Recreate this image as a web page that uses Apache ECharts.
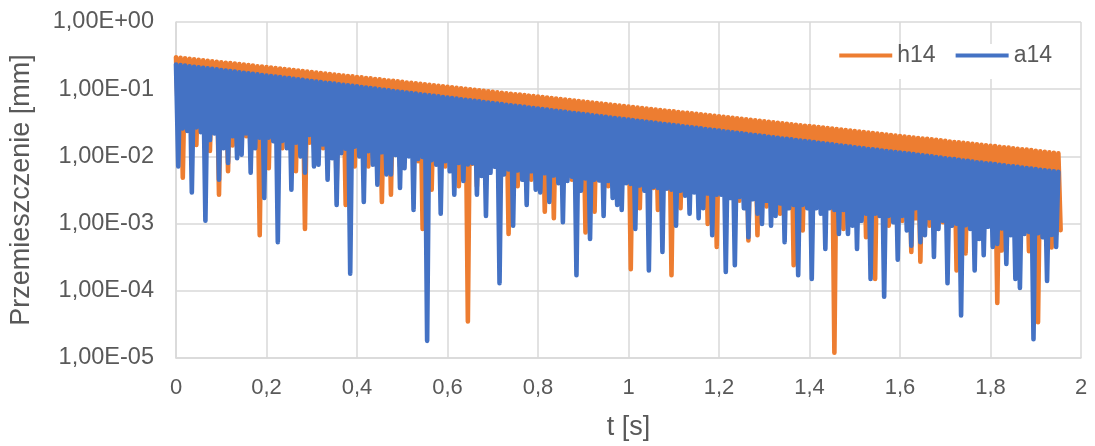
<!DOCTYPE html>
<html>
<head>
<meta charset="utf-8">
<script src="https://cdn.jsdelivr.net/npm/echarts@6/dist/echarts.min.js"></script>
<style>
  html, body { margin: 0; padding: 0; background: #ffffff; }
  #chart { width: 1095px; height: 446px; }
</style>
</head>
<body>
<div id="chart"></div>
<script>
// Sampling step of the peak / trough sequence [s]: peaks at k*dt, troughs at (k+0.5)*dt
const dt = 0.01;

const seriesNames = ['h14', 'a14'];

// h14 – amplitude peaks [mm]
const h14Peaks = [
  .299,.294,.289,.284,.279,.274,.270,.265,.261,.256,
  .252,.248,.244,.240,.236,.232,.228,.224,.220,.217,
  .213,.210,.206,.203,.199,.196,.193,.189,.186,.183,
  .180,.177,.174,.171,.168,.165,.163,.160,.157,.155,
  .152,.150,.147,.145,.142,.140,.137,.135,.133,.131,
  .129,.126,.124,.122,.120,.118,.116,.114,.112,.110,
  .109,.107,.105,.103,.101,.0997,.0981,.0964,.0948,.0932,
  .0917,.0902,.0887,.0872,.0857,.0843,.0829,.0815,.0801,.0788,
  .0775,.0762,.0749,.0737,.0724,.0712,.0700,.0689,.0677,.0666,
  .0654,.0643,.0632,.0622,.0611,.0601,.0591,.0581,.0571,.0562,
  .0553,.0544,.0535,.0526,.0517,.0508,.0500,.0491,.0483,.0475,
  .0467,.0459,.0451,.0444,.0437,.0429,.0422,.0415,.0408,.0401,
  .0395,.0388,.0382,.0375,.0369,.0363,.0357,.0351,.0345,.0339,
  .0333,.0327,.0322,.0317,.0311,.0306,.0301,.0296,.0291,.0286,
  .0282,.0277,.0273,.0268,.0264,.0259,.0255,.0251,.0246,.0242,
  .0238,.0234,.0230,.0226,.0222,.0219,.0215,.0211,.0208,.0204,
  .0201,.0198,.0194,.0191,.0188,.0185,.0182,.0179,.0176,.0173,
  .0170,.0167,.0164,.0162,.0159,.0156,.0154,.0151,.0149,.0146,
  .0144,.0142,.0139,.0137,.0135,.0132,.0130,.0128,.0126,.0124,
  .0121,.0119,.0117,.0115,.0113,.0111
];

// h14 – troughs between the peaks [mm]
const h14Troughs = [
  .028,.0048,.025,.027,.0148,.024,.026,.0121,.023,.0027,
  .023,.0060,.0146,.021,.022,.020,.0089,.020,.00067,.019,
  .0067,.018,.018,.0132,.017,.017,.0060,.016,.00083,.016,
  .015,.015,.0132,.014,.014,.0036,.014,.0019,.013,.0071,
  .013,.012,.0071,.012,.0115,.0021,.011,.0027,.011,.0071,
  .0105,.0112,.0100,.0085,.00083,.0095,.0032,.0092,.0090,.0071,
  .0087,.0084,.0036,.0081,.000035,.0078,.0036,.0075,.0067,.0072,
  .0071,.0024,.0068,.00070,.0066,.0036,.0063,.0062,.0045,.0060,
  .0059,.0015,.0057,.0012,.0055,.0053,.0052,.0045,.0050,.0049,
  .00074,.0048,.0015,.0046,.0045,.0036,.0043,.0036,.0042,.0041,
  .00021,.0040,.0017,.0038,.0037,.0034,.0016,.0035,.0034,.00017,
  .0034,.0017,.0032,.0032,.0032,.0030,.0030,.00099,.0029,.00045,
  .0028,.0027,.0026,.0026,.0022,.0025,.00056,.0024,.00067,.0023,
  .0018,.0023,.0022,.0014,.0021,.0021,.00024,.0020,.00079,.0019,
  .0019,.0018,.0018,.0018,.0019,.000012,.0017,.00083,.0016,.0017,
  .0016,.0015,.00063,.0015,.00015,.0014,.0014,.00093,.0013,.0013,
  .0011,.0013,.00038,.0012,.00027,.0012,.00093,.0011,.0011,.00105,
  .0011,.0010,.00020,.0010,.00036,.0010,.00097,.00094,.00092,.0012,
  .00090,.000066,.00040,.00086,.00084,.00082,.00080,.00078,.00039,.00075,
  .000034,.00073,.00072,.00044,.00069,.0008
];

// a14 – amplitude peaks [mm]
const a14Peaks = [
  .233,.229,.225,.220,.216,.212,.208,.204,.201,.197,
  .193,.190,.186,.183,.179,.176,.173,.169,.166,.163,
  .160,.157,.154,.151,.148,.146,.143,.140,.138,.135,
  .132,.130,.128,.125,.123,.121,.118,.116,.114,.112,
  .110,.108,.106,.104,.102,.0997,.0979,.0960,.0942,.0925,
  .0908,.0891,.0874,.0858,.0842,.0826,.0811,.0796,.0781,.0766,
  .0751,.0737,.0723,.0710,.0696,.0683,.0671,.0658,.0646,.0634,
  .0622,.0610,.0599,.0588,.0577,.0566,.0555,.0545,.0535,.0525,
  .0515,.0505,.0496,.0487,.0478,.0469,.0460,.0451,.0443,.0435,
  .0426,.0418,.0410,.0403,.0395,.0388,.0380,.0373,.0366,.0359,
  .0353,.0346,.0340,.0334,.0327,.0321,.0315,.0309,.0304,.0298,
  .0292,.0287,.0281,.0276,.0271,.0266,.0261,.0256,.0251,.0246,
  .0242,.0237,.0233,.0229,.0224,.0220,.0216,.0212,.0208,.0204,
  .0200,.0196,.0193,.0189,.0185,.0182,.0179,.0175,.0172,.0169,
  .0166,.0163,.0160,.0157,.0154,.0151,.0148,.0145,.0143,.0140,
  .0137,.0134,.0132,.0129,.0127,.0125,.0122,.0120,.0118,.0116,
  .0114,.0112,.0110,.0108,.0106,.0104,.0102,.0100,.0098,.0096,
  .0094,.0092,.0091,.0089,.0087,.0086,.0084,.0082,.0081,.0079,
  .0078,.0077,.0075,.0074,.0072,.0071,.0070,.0068,.0067,.0066,
  .0065,.0063,.0062,.0061,.0060,.0059
];

// a14 – troughs between the peaks [mm]
const a14Troughs = [
  .0071,.026,.024,.0029,.027,.023,.0011,.0175,.022,.0045,
  .0132,.0080,.020,.0094,.0106,.022,.0057,.0132,.019,.0024,
  .019,.0168,.00053,.017,.0132,.0032,.016,.0100,.0057,.0208,
  .0071,.0075,.015,.0045,.0094,.0019,.0112,.013,.00018,.014,
  .0100,.0021,.012,.0075,.0038,.0115,.0054,.0054,.0105,.0034,
  .0067,.0100,.0016,.0092,.0098,.000018,.0088,.0075,.0014,.0085,
  .0060,.0027,.0080,.0043,.0076,.0079,.0027,.0051,.0013,.0057,
  .0070,.00013,.0054,.0064,.00093,.0062,.0045,.0019,.0060,.0032,
  .0029,.0056,.0021,.0052,.0040,.00105,.0043,.0050,.00017,.0031,
  .0047,.00059,.0045,.0044,.0013,.0043,.0024,.0019,.0016,.0040,
  .0039,.00083,.0037,.0031,.00020,.0035,.0034,.00038,.0033,.0032,
  .00093,.0031,.0026,.0014,.0029,.0012,.0017,.0028,.00067,.0027,
  .0027,.00019,.0024,.00024,.0025,.0017,.00063,.0023,.0014,.00099,
  .0022,.00093,.0013,.0020,.00053,.0017,.0019,.00017,.0019,.0017,
  .00015,.0017,.0014,.00042,.0017,.0016,.00070,.0016,.00070,.00093,
  .00042,.0011,.0014,.00015,.0014,.0013,.000082,.0013,.00105,.00029,
  .0013,.00079,.00047,.0017,.00053,.00067,.0012,.00032,.00083,.0011,
  .00013,.00093,.0010,.000043,.00095,.00083,.00020,.00059,.00034,.00090,
  .00045,.00050,.00085,.00025,.00067,.00015,.00011,.00070,.00075,.000019,
  .00072,.00063,.00014,.00068,.00045
];

// Interleave peaks and troughs into [t, value] pairs on the time axis
function buildSeries(peaks, troughs) {
  const pts = [];
  for (let k = 0; k < peaks.length; k++) {
    pts.push([+(k * dt).toFixed(4), peaks[k]]);
    if (k < troughs.length) pts.push([+((k + 0.5) * dt).toFixed(4), troughs[k]]);
  }
  return pts;
}

const FONT = "'Liberation Sans', Arial, sans-serif";
const TEXT = '#595959';
const GRID = '#d9d9d9';
const LINE_W = 4.6;

function sciLabel(v) {
  const e = Math.round(Math.log10(v));
  return '1,00E' + (e >= 0 ? '+' : '-') + String(Math.abs(e)).padStart(2, '0');
}

const chart = echarts.init(document.getElementById('chart'), null, { renderer: 'canvas' });

chart.setOption({
  animation: false,
  backgroundColor: '#ffffff',
  grid: { left: 175, right: 14, top: 22, bottom: 84, containLabel: false },
  legend: {
    data: seriesNames,
    icon: 'rect',
    right: 39,
    top: 44,
    itemWidth: 53,
    itemHeight: 4,
    itemGap: 20,
    padding: [0, 4, 12, 4],
    backgroundColor: '#ffffff',
    textStyle: { fontFamily: FONT, fontSize: 23, color: TEXT, lineHeight: 18 }
  },
  xAxis: {
    type: 'value',
    min: 0,
    max: 2,
    interval: 0.2,
    name: 't [s]',
    nameLocation: 'middle',
    nameGap: 56,
    nameTextStyle: { fontFamily: FONT, fontSize: 27, color: TEXT },
    axisLine: { show: true, lineStyle: { color: GRID, width: 1.5 } },
    axisTick: { show: false },
    axisLabel: {
      fontFamily: FONT, fontSize: 22, color: TEXT, margin: 19,
      formatter: v => String(+v.toFixed(1)).replace('.', ',')
    },
    splitLine: { show: true, lineStyle: { color: GRID, width: 1.5 } }
  },
  yAxis: {
    type: 'log',
    logBase: 10,
    min: 1e-5,
    max: 1,
    name: 'Przemieszczenie [mm]',
    nameLocation: 'middle',
    nameGap: 141,
    nameTextStyle: { fontFamily: FONT, fontSize: 27, color: TEXT },
    axisLine: { show: true, lineStyle: { color: GRID, width: 1.5 } },
    axisTick: { show: false },
    axisLabel: { fontFamily: FONT, fontSize: 23.5, color: TEXT, margin: 22, formatter: sciLabel },
    splitLine: { show: true, lineStyle: { color: GRID, width: 1.5 } }
  },
  series: [
    {
      name: 'h14',
      type: 'line',
      data: buildSeries(h14Peaks, h14Troughs),
      symbol: 'none',
      sampling: null,
      color: '#ED7D31',
      lineStyle: { color: '#ED7D31', width: LINE_W, cap: 'round', join: 'round' }
    },
    {
      name: 'a14',
      type: 'line',
      data: buildSeries(a14Peaks, a14Troughs),
      symbol: 'none',
      sampling: null,
      color: '#4472C4',
      lineStyle: { color: '#4472C4', width: LINE_W, cap: 'round', join: 'round' }
    }
  ]
});
</script>
</body>
</html>
